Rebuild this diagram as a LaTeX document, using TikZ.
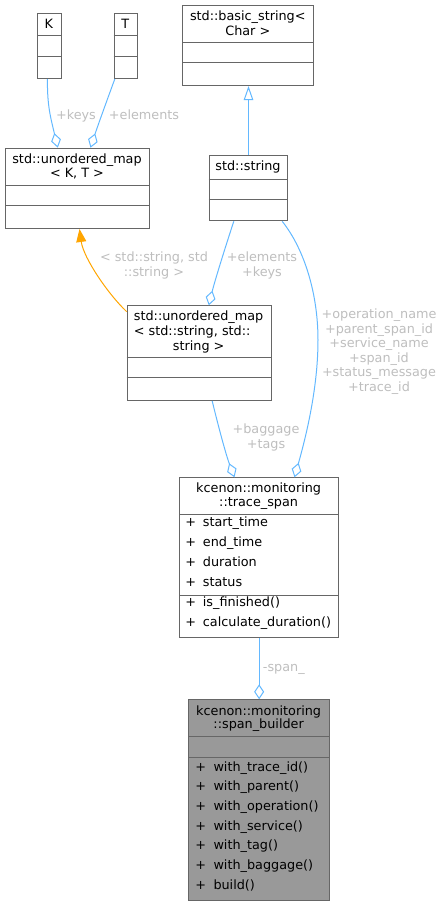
\documentclass[tikz,border=0pt]{standalone}
\usepackage{fontspec}
\setmainfont{DejaVu Sans}
\usetikzlibrary{arrows.meta}
\definecolor{edgeblue}{HTML}{63B8FF}
\definecolor{boxline}{HTML}{666666}
\definecolor{lblgray}{HTML}{BEBEBE}
\definecolor{orangec}{HTML}{FFA500}
\definecolor{darkfill}{HTML}{999999}
\begin{document}
\begin{tikzpicture}[x=1pt,y=-1pt,
 every node/.style={font=\fontsize{12.8}{14.5}\selectfont, inner sep=0pt, text height=9.5pt, text depth=2.5pt},
 cls/.style={draw=boxline, line width=1pt, fill=white, anchor=north west},
 dcls/.style={draw=boxline, line width=1pt, fill=darkfill, anchor=north west},
 sep/.style={draw=boxline, line width=1pt},
 lbl/.style={text=lblgray},
 mem/.style={anchor=west},
 assoc/.style={draw=edgeblue, line width=1pt, -{Diamond[open, length=15pt, width=10pt]}},
 inherit/.style={draw=edgeblue, line width=1pt, -{Triangle[open, length=14pt, width=9.5pt]}},
 templ/.style={draw=orangec, line width=1pt, -{Triangle[length=13pt, width=10pt, fill=orangec]}},
]
\useasboundingbox (0,0) rectangle (444,905);

% ---- class boxes ----
\node[cls, minimum width=23.7pt, minimum height=65.3pt] (K) at (37,12.7) {};
\draw[sep] (37,35.7) -- (60.7,35.7);
\draw[sep] (37,56) -- (60.7,56);
\node at (48.85,24.5) {K};

\node[cls, minimum width=23pt, minimum height=65.3pt] (T) at (113.7,12.7) {};
\draw[sep] (113.7,35.7) -- (136.7,35.7);
\draw[sep] (113.7,56) -- (136.7,56);
\node at (125.2,24.5) {T};

\node[cls, minimum width=144pt, minimum height=80.3pt] (mapKT) at (5,147.7) {};
\draw[sep] (5,185) -- (149,185);
\draw[sep] (5,205.3) -- (149,205.3);
\node at (77,160) {std::unordered\_map};
\node at (77,174.3) {< K, T >};

\node[cls, minimum width=131pt, minimum height=80pt] (bstr) at (182.3,5) {};
\draw[sep] (182.3,42.7) -- (313.3,42.7);
\draw[sep] (182.3,62.7) -- (313.3,62.7);
\node at (247.8,17) {std::basic\_string<};
\node at (247.8,31.5) {Char >};

\node[cls, minimum width=78.6pt, minimum height=65.3pt] (str) at (208.7,155) {};
\draw[sep] (208.7,179) -- (287.3,179);
\draw[sep] (208.7,199.3) -- (287.3,199.3);
\node at (248,166.7) {std::string};

\node[cls, minimum width=144pt, minimum height=94.7pt] (mapSS) at (126.7,305.3) {};
\draw[sep] (126.7,357.7) -- (270.7,357.7);
\draw[sep] (126.7,377.7) -- (270.7,377.7);
\node[mem] at (133.7,317.3) {std::unordered\_map};
\node[mem] at (133.7,332) {< std::string, std::};
\node at (198.7,346.7) {string >};

\node[cls, minimum width=159.3pt, minimum height=159.4pt] (ts) at (179,477.3) {};
\draw[sep] (179,514) -- (338.3,514);
\draw[sep] (179,595) -- (338.3,595);
\node at (258.65,489) {kcenon::monitoring};
\node at (258.65,503.3) {::trace\_span};
\foreach \yy/\tt in {523.3/start\_time, 543.3/end\_time, 563.3/duration, 583.3/status, 603.3/is\_finished(), 623.3/calculate\_duration()}{
  \node at (190.7,\yy) {+};
  \node[mem] at (202.7,\yy) {\tt};
}

\node[dcls, minimum width=140.7pt, minimum height=200.7pt] (sb) at (188.3,699.3) {};
\draw[sep] (188.3,736.7) -- (329,736.7);
\draw[sep] (188.3,757.7) -- (329,757.7);
\node at (258.65,711.7) {kcenon::monitoring};
\node at (258.65,725) {::span\_builder};
\foreach \yy/\tt in {767.7/with\_trace\_id(), 787.3/with\_parent(), 806.9/with\_operation(), 826.5/with\_service(), 846.1/with\_tag(), 865.8/with\_baggage(), 885.5/build()}{
  \node at (200.7,\yy) {+};
  \node[mem] at (213.3,\yy) {\tt};
}

% ---- connectors ----
\draw[assoc] ([xshift=-1.85pt]K.south) .. controls (47,105) and (50.7,118) .. ([xshift=-19.7pt]mapKT.north);
\draw[assoc] ([xshift=-10.9pt]T.south) .. controls (110,92) and (98,125) .. ([xshift=13pt]mapKT.north);
\node[lbl] at (76,115.7) {+keys};
\node[lbl] at (144,115.7) {+elements};

\draw[inherit] (str.north) -- (str.north |- bstr.south);

\draw[templ] ([yshift=-6.4pt]mapSS.north west) .. controls (108,294) and (83.5,258) .. ([xshift=2pt]mapKT.south);
\node[lbl] at (154,258.3) {< std::string, std};
\node[lbl] at (154,272.5) {::string >};

\draw[assoc] ([xshift=-14.7pt]str.south) .. controls (226,245) and (215,280) .. ([xshift=9.6pt]mapSS.north);
\node[lbl] at (262,258.3) {+elements};
\node[lbl] at (262,272.7) {+keys};

\draw[assoc] ([xshift=33.7pt]str.south) .. controls (305,250) and (318,295) .. (318,340) .. controls (318,390) and (305,440) .. ([xshift=35.35pt]ts.north);
\foreach \yy/\tt in {315/+operation\_name, 329.6/+parent\_span\_id, 344.2/+service\_name, 358.8/+span\_id, 373.3/+status\_message, 387.8/+trace\_id}{
  \node[lbl] at (379,\yy) {\tt};
}

\draw[assoc] ([xshift=13pt]mapSS.south) .. controls (218,425) and (226,455) .. ([xshift=-24.65pt]ts.north);
\node[lbl] at (266,430.3) {+baggage};
\node[lbl] at (266,444.7) {+tags};

\draw[assoc] (ts.south) -- (sb.north);
\node[lbl] at (283.8,667.7) {-span\_};
\end{tikzpicture}
\end{document}
